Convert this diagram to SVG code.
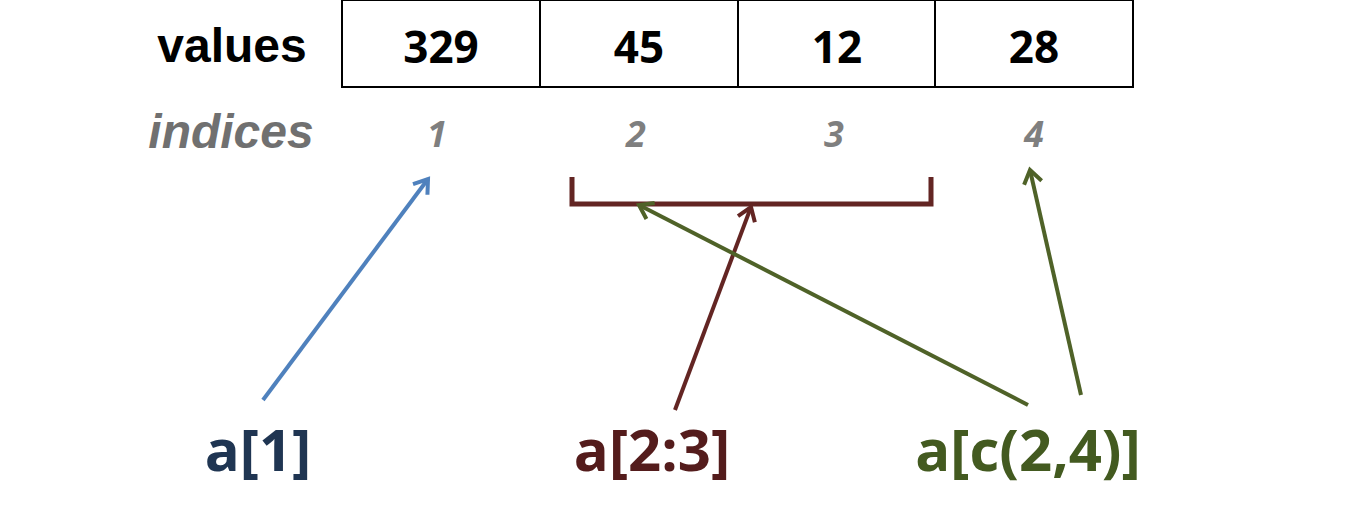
<svg xmlns="http://www.w3.org/2000/svg" width="1350" height="518" viewBox="0 0 1350 518">
<style>
.cell{fill:#fff;stroke:#000;stroke-width:2}
.hdr{font-family:"Liberation Sans",Arial,sans-serif;font-weight:bold;font-size:48px}
.num{font-family:"Open Sans",sans-serif;font-weight:bold;font-size:44px;fill:#000;text-anchor:middle}
.idx{font-family:"Open Sans",sans-serif;font-weight:bold;font-style:italic;font-size:36px;fill:#7f7f7f;text-anchor:middle}
.lbl{font-family:"Open Sans",sans-serif;font-weight:bold;font-size:58px;text-anchor:middle}
.ln{fill:none;stroke-width:4;stroke-linecap:butt}
</style>
<defs>
<marker id="ahB" markerUnits="userSpaceOnUse" viewBox="-16 -10 20 20" markerWidth="20" markerHeight="20" refX="0" refY="0" orient="auto" overflow="visible">
<path d="M-13,-9 L0,0 L-13,9" fill="none" stroke="#4f81bd" stroke-width="4"/>
</marker>
<marker id="ahR" markerUnits="userSpaceOnUse" viewBox="-16 -10 20 20" markerWidth="20" markerHeight="20" refX="0" refY="0" orient="auto" overflow="visible">
<path d="M-13,-9 L0,0 L-13,9" fill="none" stroke="#632523" stroke-width="4"/>
</marker>
<marker id="ahG" markerUnits="userSpaceOnUse" viewBox="-16 -10 20 20" markerWidth="20" markerHeight="20" refX="0" refY="0" orient="auto" overflow="visible">
<path d="M-13,-9 L0,0 L-13,9" fill="none" stroke="#4f6228" stroke-width="4"/>
</marker>
</defs>
<rect width="1350" height="518" fill="#fff"/>
<g id="values-label"><text class="hdr" x="232" y="62" text-anchor="middle" fill="#000">values</text></g>
<g id="indices-label"><text class="hdr" x="231" y="148" text-anchor="middle" font-style="italic" fill="#707070">indices</text></g>
<g id="cell1"><rect class="cell" x="342" y="0" width="198" height="87"/><text class="num" x="441" y="63">329</text></g>
<g id="cell2"><rect class="cell" x="540" y="0" width="198" height="87"/><text class="num" x="639" y="63">45</text></g>
<g id="cell3"><rect class="cell" x="738" y="0" width="197" height="87"/><text class="num" x="837" y="63">12</text></g>
<g id="cell4"><rect class="cell" x="935" y="0" width="198" height="87"/><text class="num" x="1034" y="63">28</text></g>
<g id="idx1"><text class="idx" x="437" y="147">1</text></g>
<g id="idx2"><text class="idx" x="636" y="147">2</text></g>
<g id="idx3"><text class="idx" x="834" y="147">3</text></g>
<g id="idx4"><text class="idx" x="1034" y="147">4</text></g>
<g id="bracket"><path d="M572,177 L572,204 L931,204 L931,177" fill="none" stroke="#632523" stroke-width="5"/></g>
<g id="connectors">
<path class="ln" d="M263,400 L428,179" stroke="#4f81bd" marker-end="url(#ahB)"/>
<path class="ln" d="M675,410 L751,207" stroke="#632523" marker-end="url(#ahR)"/>
<path class="ln" d="M1028,405 L639,205" stroke="#4f6228" marker-end="url(#ahG)"/>
<path class="ln" d="M1081,395 L1030,170" stroke="#4f6228" marker-end="url(#ahG)"/>
</g>
<g id="lbl-a1"><text class="lbl" x="258" y="471" fill="#1f3552">a[1]</text></g>
<g id="lbl-a23"><text class="lbl" x="652" y="471" fill="#541c1c">a[2:3]</text></g>
<g id="lbl-ac24"><text class="lbl" x="1028" y="471" fill="#435a20">a[c(2,4)]</text></g>
</svg>
